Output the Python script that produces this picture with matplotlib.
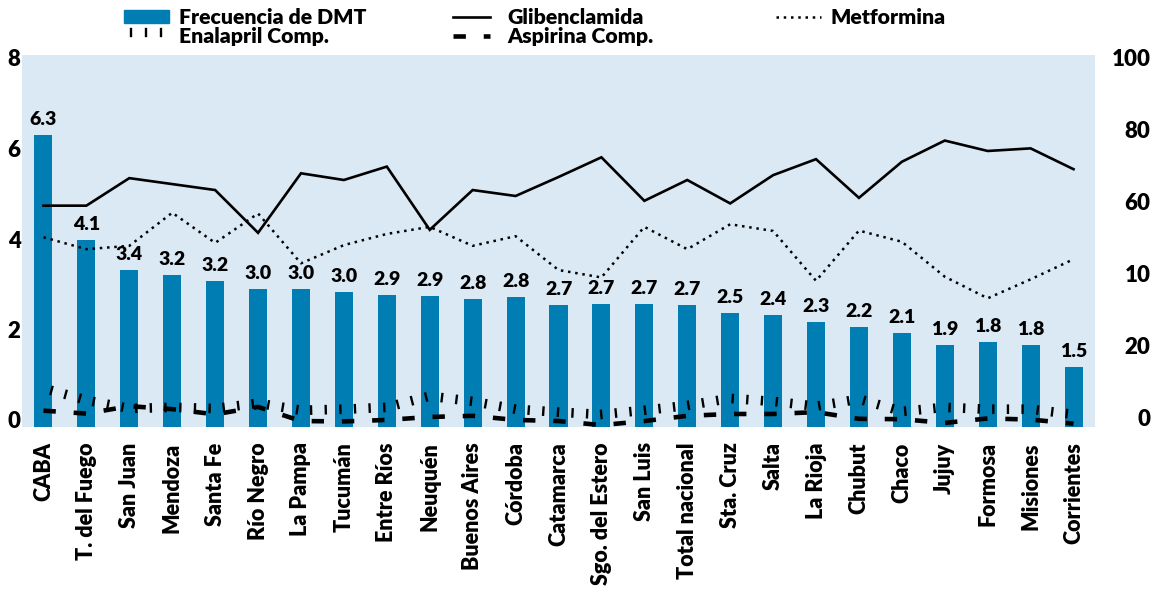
import numpy as np
import matplotlib.pyplot as plt
from matplotlib import patheffects
from matplotlib.patches import Patch
from matplotlib.transforms import ScaledTranslation

plt.rcParams['font.family'] = ['Lato', 'DejaVu Sans']
plt.rcParams['font.weight'] = 'heavy'

# Data
provincias = ['CABA', 'T. del Fuego', 'San Juan', 'Mendoza', 'Santa Fe', 'Río Negro',
              'La Pampa', 'Tucumán', 'Entre Ríos', 'Neuquén', 'Buenos Aires', 'Córdoba',
              'Catamarca', 'Sgo. del Estero', 'San Luis', 'Total nacional', 'Sta. Cruz',
              'Salta', 'La Rioja', 'Chubut', 'Chaco', 'Jujuy', 'Formosa', 'Misiones',
              'Corrientes']
# frecuencia de DMT (left axis), bar heights as drawn
dmt = [6.29, 4.02, 3.38, 3.27, 3.14, 2.97, 2.97, 2.90, 2.84, 2.82, 2.75, 2.80, 2.62,
       2.65, 2.65, 2.62, 2.45, 2.41, 2.26, 2.15, 2.02, 1.76, 1.83, 1.76, 1.29]
dmt_etiquetas = ['6.3', '4.1', '3.4', '3.2', '3.2', '3.0', '3.0', '3.0', '2.9', '2.9',
                 '2.8', '2.8', '2.7', '2.7', '2.7', '2.7', '2.5', '2.4', '2.3', '2.2',
                 '2.1', '1.9', '1.8', '1.8', '1.5']
# drug use (right axis, %)
glibenclamida = [59.5, 59.5, 66.9, 65.3, 63.7, 52.2, 68.2, 66.4, 70.0, 53.0, 63.7, 62.1,
                 67.2, 72.5, 60.8, 66.4, 60.1, 67.7, 72.0, 61.6, 71.3, 77.0, 74.2, 74.9, 69.3]
metformina = [51.0, 47.8, 48.7, 57.6, 49.5, 57.4, 44.0, 48.9, 51.9, 53.8, 48.7, 51.3,
              42.2, 40.2, 53.8, 47.8, 54.5, 52.7, 39.3, 52.8, 49.8, 40.4, 34.6, 39.7, 45.1]
enalapril = [9.4, 6.2, 4.0, 4.3, 4.0, 5.4, 3.5, 3.8, 4.3, 7.3, 5.9, 3.8, 3.0, 2.4, 3.5,
             4.8, 6.7, 5.9, 4.6, 6.5, 3.2, 4.3, 3.8, 3.8, 2.4]
aspirina = [4.4, 3.6, 5.6, 4.8, 3.4, 5.4, 1.6, 1.5, 1.9, 2.7, 3.0, 1.9, 1.6, 0.5, 1.6,
            3.0, 3.5, 3.5, 4.0, 2.2, 2.1, 1.1, 2.3, 2.0, 0.9]
eje_izq_ticks = [0, 2, 4, 6, 8]
eje_der_ticks = [0, 20, 40, 60, 80, 100]
eje_der_etiquetas = ['0', '20', '10', '60', '80', '100']

azul = '#007db3'
fondo = '#dbe9f4'

fig = plt.figure(figsize=(11.62, 6.05), dpi=100)
ax = fig.add_axes([22 / 1162, 178 / 605, 1073 / 1162, 372 / 605])
ax.set_facecolor(fondo)

x = np.arange(len(provincias))
bars = ax.bar(x, dmt, width=0.42, color=azul, zorder=2)
for b, txt in zip(bars, dmt_etiquetas):
    ax.annotate(txt, (b.get_x() + b.get_width() / 2, b.get_height()),
                xytext=(0, 5), textcoords='offset points', ha='center', va='bottom',
                fontsize=14)

ax.set_xlim(-0.5, len(provincias) - 0.5)
ax.set_ylim(0, 8)
ax.set_yticks(eje_izq_ticks)
ax.set_xticks(x)
ax.set_xticklabels(provincias, rotation=90, fontsize=15.5, va='top')
ax.tick_params(axis='x', length=0, pad=11)
ax.tick_params(axis='y', length=0, pad=1, labelsize=16)

ax2 = ax.twinx()
ax2.set_ylim(0, 100)
ax2.set_yticks(eje_der_ticks)
ax2.set_yticklabels(eje_der_etiquetas)
ax2.tick_params(axis='y', length=0, pad=40, labelsize=16)
for lab in ax2.get_yticklabels():
    lab.set_ha('right')

# the printed tick labels are spaced a little tighter than the plot scale
for lab, v in zip(ax.get_yticklabels(), eje_izq_ticks):
    up = 7 - 1.25 * v
    lab.set_transform(lab.get_transform() +
                      ScaledTranslation(0, up / 100, fig.dpi_scale_trans))
for lab, v in zip(ax2.get_yticklabels(), eje_der_ticks):
    up = 9 - 0.12 * v
    lab.set_transform(lab.get_transform() +
                      ScaledTranslation(0, up / 100, fig.dpi_scale_trans))

for a in (ax, ax2):
    for s in a.spines.values():
        s.set_visible(False)

l_gli, = ax2.plot(x, glibenclamida, color='black', lw=1.9, solid_joinstyle='miter')
l_met, = ax2.plot(x, metformina, color='black', lw=1.8, linestyle=(0, (1, 1.9)))
l_asp, = ax2.plot(x, aspirina, color='black', lw=3.3, linestyle=(0, (2.7, 3.9)),
                  dash_capstyle='butt')
l_ena, = ax2.plot(x, enalapril, color='black', lw=1.7,
                  path_effects=[patheffects.TickedStroke(spacing=10.5, angle=90, length=0.5)])

# legend, three separate columns like the original
common = dict(frameon=False, borderpad=0, borderaxespad=0, fontsize=15.3,
              labelspacing=0.0, handleheight=0.62)
top = 1 - 8 / 605
leg1 = fig.legend([Patch(color=azul), l_ena], ['Frecuencia de DMT', 'Enalapril Comp.'],
                  loc='upper left', bbox_to_anchor=(124 / 1162, top),
                  handlelength=2.1, handletextpad=0.5, **common)
leg2 = fig.legend([l_gli, l_asp], ['Glibenclamida', 'Aspirina Comp.'],
                  loc='upper left', bbox_to_anchor=(453 / 1162, top),
                  handlelength=1.75, handletextpad=0.8, **common)
leg3 = fig.legend([l_met], ['Metformina'],
                  loc='upper left', bbox_to_anchor=(776 / 1162, top),
                  handlelength=2.1, handletextpad=0.45, **common)

fig.savefig('out.png', dpi=100)
